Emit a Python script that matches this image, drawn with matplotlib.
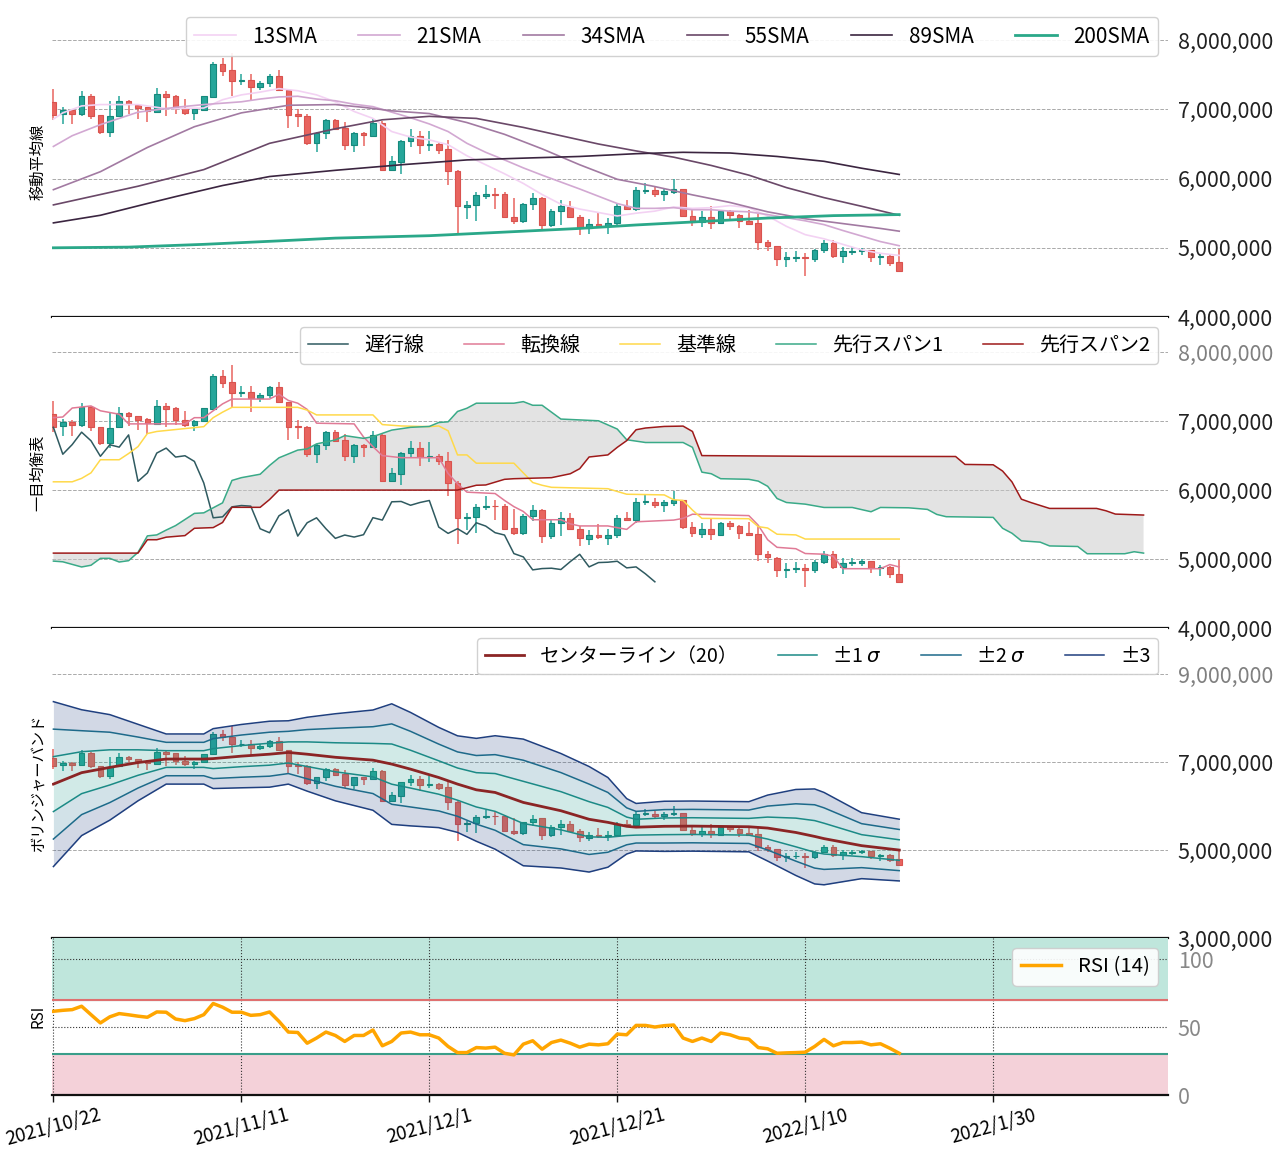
import numpy as np
import pandas as pd
import matplotlib
matplotlib.use('Agg')
import matplotlib.pyplot as plt
import matplotlib.dates as mdates
from matplotlib.ticker import FuncFormatter, FixedLocator

plt.rcParams['font.family'] = ['Noto Sans CJK JP', 'DejaVu Sans']
plt.rcParams['axes.unicode_minus'] = False

M = 1e6
START = '2021-10-22'

# ---- daily OHLC (million JPY) ----
OPEN = [7.10, 6.93, 6.985, 6.94, 7.20, 6.92, 6.68, 6.91, 7.115, 7.07, 7.03, 6.965, 7.22, 7.196, 7.02, 6.95,
        6.995, 7.18, 7.65, 7.57, 7.41, 7.42, 7.33, 7.375, 7.49, 7.28, 6.93, 6.91, 6.52, 6.66, 6.84, 6.73,
        6.489, 6.657, 6.62, 6.80, 6.127, 6.233, 6.537, 6.61, 6.48, 6.498, 6.426, 6.103, 5.593, 5.612, 5.752,
        5.776, 5.776, 5.444, 5.381, 5.627, 5.718, 5.333, 5.526, 5.593, 5.439, 5.285, 5.348, 5.31, 5.353,
        5.598, 5.565, 5.825, 5.83, 5.78, 5.81, 5.849, 5.464, 5.367, 5.44, 5.353, 5.526, 5.478, 5.382, 5.358,
        5.079, 5.021, 4.843, 4.857, 4.867, 4.843, 4.963, 5.069, 4.886, 4.944, 4.949, 4.968, 4.872, 4.881, 4.79]
HIGH = [7.29, 7.03, 7.01, 7.27, 7.22, 6.92, 7.115, 7.20, 7.13, 7.08, 7.04, 7.31, 7.27, 7.21, 7.15, 7.02,
        7.19, 7.68, 7.74, 7.81, 7.51, 7.51, 7.41, 7.51, 7.57, 7.28, 7.01, 6.93, 6.67, 6.86, 6.865, 6.816,
        6.67, 6.67, 6.86, 6.83, 6.32, 6.551, 6.715, 6.695, 6.695, 6.522, 6.551, 6.127, 5.67, 5.80, 5.911,
        5.863, 5.80, 5.719, 5.646, 5.786, 5.728, 5.56, 5.685, 5.67, 5.478, 5.415, 5.502, 5.43, 5.637,
        5.685, 5.878, 5.935, 5.878, 5.863, 5.993, 5.849, 5.54, 5.526, 5.598, 5.54, 5.55, 5.492, 5.541, 5.492,
        5.117, 5.031, 4.939, 4.958, 4.929, 4.982, 5.117, 5.117, 5.011, 5.011, 4.997, 4.968, 4.915, 4.901, 4.982]
LOW = [6.84, 6.79, 6.79, 6.91, 6.86, 6.65, 6.605, 6.90, 6.93, 6.865, 6.82, 6.95, 6.91, 6.94, 6.92, 6.85,
       6.99, 7.18, 7.48, 7.20, 7.35, 7.13, 7.28, 7.33, 7.27, 6.73, 6.74, 6.48, 6.39, 6.575, 6.705, 6.416,
       6.388, 6.474, 6.604, 6.113, 6.113, 6.07, 6.46, 6.354, 6.402, 6.358, 5.91, 5.213, 5.42, 5.382, 5.709,
       5.565, 5.43, 5.348, 5.353, 5.55, 5.237, 5.295, 5.333, 5.43, 5.189, 5.203, 5.285, 5.204, 5.31,
       5.55, 5.526, 5.78, 5.733, 5.68, 5.776, 5.44, 5.32, 5.30, 5.271, 5.343, 5.416, 5.286, 5.348, 4.973,
       4.949, 4.742, 4.722, 4.80, 4.597, 4.80, 4.925, 4.853, 4.78, 4.896, 4.901, 4.80, 4.751, 4.732, 4.65]
CLOSE = [6.92, 6.985, 6.94, 7.20, 6.91, 6.68, 6.90, 7.115, 7.08, 7.02, 6.98, 7.22, 7.18, 7.02, 6.95, 7.00,
         7.19, 7.65, 7.56, 7.41, 7.42, 7.33, 7.375, 7.49, 7.28, 6.92, 6.91, 6.52, 6.66, 6.84, 6.715, 6.49,
         6.657, 6.623, 6.80, 6.127, 6.248, 6.537, 6.609, 6.479, 6.498, 6.416, 6.103, 5.598, 5.612, 5.757, 5.776,
         5.767, 5.439, 5.381, 5.627, 5.714, 5.333, 5.526, 5.598, 5.439, 5.30, 5.348, 5.319, 5.353, 5.60,
         5.565, 5.83, 5.835, 5.78, 5.82, 5.849, 5.464, 5.372, 5.44, 5.358, 5.526, 5.478, 5.382, 5.348, 5.079,
         5.031, 4.843, 4.862, 4.867, 4.848, 4.963, 5.069, 4.886, 4.949, 4.954, 4.968, 4.872, 4.886, 4.785, 4.67]

# ---- moving averages (day offset from START, value) ----
SMA13_DAY = [0, 1, 3, 5, 9, 12, 14, 16, 18, 20, 22, 24, 26, 28, 30, 32, 34, 36, 38, 40, 42, 44, 46, 48, 50,
             52, 54, 56, 58, 60, 62, 64, 66, 68, 70, 72, 74, 76, 78, 80, 82, 84, 86, 88, 90]
SMA13 = [6.86, 6.95, 7.05, 7.07, 7.07, 7.01, 7.015, 7.02, 7.14, 7.21, 7.25, 7.30, 7.27, 7.21, 7.11, 6.97, 6.87,
         6.68, 6.60, 6.56, 6.49, 6.33, 6.20, 6.07, 5.93, 5.77, 5.63, 5.56, 5.51, 5.46, 5.50, 5.53, 5.59, 5.57,
         5.58, 5.61, 5.58, 5.46, 5.31, 5.19, 5.13, 5.05, 4.97, 4.92, 4.89]
SMA21_DAY = [0, 2, 5, 9, 13, 16, 20, 22, 24, 26, 28, 30, 32, 34, 36, 38, 40, 42, 44, 46, 48, 50, 52, 54, 56,
             58, 60, 62, 64, 66, 68, 70, 72, 74, 76, 78, 80, 82, 84, 86, 88, 90]
SMA21 = [6.465, 6.62, 6.78, 6.96, 7.03, 7.07, 7.11, 7.15, 7.18, 7.19, 7.15, 7.125, 7.075, 7.04, 6.96, 6.88,
         6.79, 6.68, 6.51, 6.38, 6.27, 6.155, 6.05, 5.95, 5.85, 5.745, 5.64, 5.57, 5.57, 5.58, 5.55, 5.55,
         5.53, 5.52, 5.48, 5.435, 5.39, 5.335, 5.25, 5.17, 5.09, 5.03]
SMA34_DAY = [0, 5, 10, 15, 20, 25, 30, 33, 36, 40, 44, 48, 52, 56, 60, 64, 68, 72, 76, 80, 84, 88, 90]
SMA34 = [5.84, 6.10, 6.45, 6.75, 6.95, 7.06, 7.07, 7.03, 6.98, 6.94, 6.81, 6.64, 6.43, 6.20, 5.99, 5.885,
         5.765, 5.655, 5.52, 5.42, 5.35, 5.28, 5.24]
SMA55_DAY = [0, 9, 16, 23, 30, 35, 40, 45, 50, 54, 58, 62, 66, 70, 74, 78, 82, 86, 90]
SMA55 = [5.62, 5.89, 6.13, 6.51, 6.72, 6.85, 6.90, 6.87, 6.74, 6.62, 6.50, 6.40, 6.31, 6.19, 6.05, 5.87,
         5.725, 5.60, 5.47]
SMA89_DAY = [0, 5, 10, 13, 18, 23, 30, 37, 44, 51, 56, 62, 67, 72, 77, 82, 86, 90]
SMA89 = [5.36, 5.47, 5.64, 5.74, 5.90, 6.03, 6.12, 6.20, 6.27, 6.30, 6.32, 6.36, 6.38, 6.37, 6.32, 6.25,
         6.15, 6.06]
SMA200_DAY = [0, 8, 16, 24, 30, 40, 50, 56, 62, 69, 76, 83, 90]
SMA200 = [5.00, 5.01, 5.05, 5.10, 5.14, 5.175, 5.24, 5.28, 5.33, 5.38, 5.43, 5.465, 5.48]

# ---- ichimoku ----
TENKAN_DAY = [0, 1, 2, 4, 5, 7, 8, 14, 15, 16, 17, 18, 19, 23, 24, 25, 26, 27, 28, 32, 33, 34, 35, 37, 41,
              42, 43, 44, 47, 48, 49, 50, 51, 54, 55, 56, 59, 61, 62, 66, 67, 68, 74, 75, 76, 77, 79, 80, 82,
              83, 84, 88, 89, 90]
TENKAN = [7.05, 7.06, 7.19, 7.22, 7.15, 7.10, 6.96, 6.96, 7.05, 7.05, 7.15, 7.25, 7.32, 7.32, 7.39, 7.30,
          7.26, 7.17, 6.97, 6.96, 6.77, 6.63, 6.50, 6.47, 6.47, 6.24, 6.09, 5.97, 5.95, 5.85, 5.76, 5.69,
          5.57, 5.57, 5.51, 5.48, 5.48, 5.43, 5.54, 5.565, 5.59, 5.65, 5.63, 5.49, 5.28, 5.17, 5.15, 5.08,
          5.07, 5.04, 4.86, 4.86, 4.92, 4.885]
KIJUN_DAY = [0, 2, 3, 4, 5, 7, 8, 9, 10, 11, 16, 17, 18, 19, 26, 27, 28, 34, 35, 37, 40, 41, 42, 43, 44, 45,
             49, 50, 51, 52, 53, 59, 61, 65, 66, 67, 68, 69, 74, 75, 76, 77, 79, 80, 90]
KIJUN = [6.12, 6.12, 6.17, 6.25, 6.44, 6.44, 6.53, 6.63, 6.82, 6.85, 6.92, 7.05, 7.13, 7.20, 7.20, 7.16,
         7.09, 7.09, 6.95, 6.93, 6.92, 6.93, 6.86, 6.51, 6.51, 6.39, 6.39, 6.25, 6.11, 6.07, 6.04, 6.02,
         5.94, 5.93, 5.86, 5.85, 5.71, 5.59, 5.585, 5.47, 5.45, 5.36, 5.35, 5.29, 5.29]
SENKOU1_DAY = [0, 1, 3, 4, 5, 6, 7, 8, 9, 10, 11, 12, 13, 15, 16, 17, 18, 19, 20, 22, 23, 24, 26, 27, 28,
               30, 31, 33, 34, 36, 38, 40, 41, 42, 43, 44, 45, 49, 50, 51, 52, 54, 58, 60, 61, 63, 67, 68,
               69, 70, 71, 74, 75, 76, 77, 78, 80, 82, 85, 87, 88, 91, 93, 94, 95, 100, 101, 102, 103, 105,
               106, 109, 110, 114, 115, 116]
SENKOU1 = [4.97, 4.96, 4.885, 4.91, 5.01, 5.01, 4.957, 4.976, 5.096, 5.336, 5.35, 5.42, 5.485, 5.662, 5.67,
           5.743, 5.815, 6.14, 6.18, 6.23, 6.357, 6.468, 6.58, 6.597, 6.67, 6.727, 6.79, 6.75, 6.775, 6.87,
           6.91, 6.923, 6.98, 6.99, 7.14, 7.187, 7.26, 7.26, 7.283, 7.23, 7.23, 7.03, 7.005, 6.885, 6.73,
           6.69, 6.69, 6.62, 6.26, 6.237, 6.165, 6.156, 6.13, 6.055, 5.878, 5.82, 5.796, 5.748, 5.748,
           5.686, 5.748, 5.743, 5.72, 5.647, 5.614, 5.604, 5.446, 5.374, 5.264, 5.245, 5.19, 5.182, 5.077,
           5.077, 5.106, 5.086]
SENKOU2_DAY = [0, 9, 10, 11, 12, 14, 15, 17, 18, 19, 22, 23, 24, 43, 45, 46, 48, 49, 53, 55, 56, 57, 59, 60,
               61, 62, 63, 65, 67, 68, 69, 81, 96, 97, 100, 101, 102, 103, 104, 106, 111, 112, 113, 116]
SENKOU2 = [5.086, 5.086, 5.28, 5.28, 5.317, 5.34, 5.446, 5.456, 5.53, 5.75, 5.75, 5.863, 6.0, 6.0, 6.07,
           6.074, 6.156, 6.165, 6.18, 6.237, 6.31, 6.48, 6.51, 6.62, 6.717, 6.875, 6.9, 6.923, 6.928, 6.85,
           6.50, 6.49, 6.487, 6.372, 6.367, 6.276, 6.118, 5.868, 5.82, 5.734, 5.734, 5.70, 5.652, 5.638]
CHIKOU_SHIFT = 26

# ---- bollinger (centre and sigma) ----
BB_DAY = [0, 3, 6, 9, 12, 16, 17, 20, 23, 25, 27, 30, 34, 36, 38, 41, 43, 45, 47, 50, 54, 57, 59, 61, 62,
          65, 68, 74, 76, 79, 81, 82, 86, 90]
BB_MID = [6.50, 6.76, 6.88, 6.99, 7.07, 7.07, 7.08, 7.136, 7.18, 7.22, 7.18, 7.11, 7.045, 6.955, 6.84, 6.65,
          6.50, 6.37, 6.31, 6.083, 5.894, 5.70, 5.63, 5.54, 5.52, 5.54, 5.545, 5.53, 5.50, 5.40, 5.31, 5.26,
          5.10, 5.00]
BB_SIGMA = [0.625, 0.477, 0.40, 0.29, 0.19, 0.19, 0.227, 0.24, 0.25, 0.24, 0.28, 0.33, 0.38, 0.457, 0.43,
            0.38, 0.366, 0.39, 0.43, 0.48, 0.434, 0.40, 0.34, 0.21, 0.18, 0.19, 0.19, 0.19, 0.25, 0.326,
            0.36, 0.35, 0.25, 0.234]

# ---- RSI ----
RSI_DAY = list(range(0, 91))
RSI = [61.6, 62.3, 62.8, 65.3, 59.1, 53.0, 57.5, 59.9, 59.0, 58.0, 57.2, 61.1, 60.9, 55.9, 54.7, 56.2, 59.1,
       67.3, 64.6, 60.9, 60.9, 58.6, 59.1, 61.1, 54.2, 46.3, 46.0, 38.1, 41.9, 46.3, 43.8, 39.4, 43.8, 43.8,
       47.8, 36.2, 39.4, 45.6, 46.3, 44.3, 44.3, 41.9, 35.7, 31.2, 31.2, 34.9, 34.5, 35.2, 30.7, 29.5, 37.4,
       39.9, 33.7, 38.6, 40.4, 38.1, 35.2, 37.4, 36.9, 37.7, 44.8, 44.3, 51.2, 51.2, 50.0, 51.0, 51.5, 41.9,
       39.4, 41.9, 39.4, 45.6, 44.3, 41.9, 41.1, 34.9, 34.0, 30.7, 31.0, 31.2, 31.5, 35.7, 40.9, 36.2, 38.6,
       38.6, 38.9, 36.9, 37.7, 34.4, 30.7]

XTICK_DAYS = [0, 20, 40, 60, 80, 100]

# ---------------------------------------------------------------
x0 = mdates.date2num(pd.Timestamp(START))
def kx(days):
    return x0 + np.asarray(days, dtype=float)

n = len(CLOSE)
xd = kx(range(n))
o = np.array(OPEN) * M
h = np.array(HIGH) * M
l = np.array(LOW) * M
c = np.array(CLOSE) * M

UP, DOWN = '#26a69a', '#e8645f'
UP_E, DOWN_E = '#16897c', '#d9534f'
FS = 15.5

fig = plt.figure(figsize=(12.81, 11.52), dpi=100)
W, H = 1281, 1152
left, right = 52 / W, 1168 / W
bounds = [(7, 317), (317, 628), (628, 938), (938, 1095)]
axes = [fig.add_axes([left, 1 - b / H, right - left, (b - t) / H]) for t, b in bounds]

def candles(ax, z=3):
    up = c >= o
    col = np.where(up, UP, DOWN)
    ecol = np.where(up, UP_E, DOWN_E)
    ax.vlines(xd, l, h, colors=col, linewidth=1.1, zorder=z)
    body = np.maximum(np.abs(c - o), 0.008 * M)
    ax.bar(xd, body, bottom=np.minimum(o, c), width=0.6, color=col, edgecolor=ecol,
           linewidth=0.8, zorder=z + 0.1)

money = FuncFormatter(lambda v, p: f'{v:,.0f}')
xlim = (x0 - 0.15, x0 + 118.6)

for i, ax in enumerate(axes):
    ax.set_xlim(*xlim)
    for s in ('top', 'left', 'right'):
        ax.spines[s].set_visible(False)
    ax.spines['bottom'].set_color('#111111')
    ax.spines['bottom'].set_linewidth(1.6)
    ax.yaxis.tick_right()
    ax.tick_params(axis='y', length=0, labelsize=FS, labelcolor='#222222', pad=7)
    ax.xaxis.set_major_locator(FixedLocator(kx(XTICK_DAYS)))
    if i < 3:
        ax.tick_params(axis='x', length=0, labelbottom=False)
        ax.yaxis.set_major_formatter(money)
        ax.grid(axis='y', linestyle='--', color='#aaaaaa', linewidth=0.7)
        ax.set_axisbelow(True)

def leg(ax, size, **kw):
    ax.legend(loc='upper right', fontsize=size, framealpha=0.9, edgecolor='#cccccc', **kw)

# ---- panel 1: SMA ----
ax = axes[0]
ax.set_ylim(4.0 * M, 8.48 * M)
ax.set_yticks(np.arange(4, 9) * M)
candles(ax)
sma_specs = [(SMA13_DAY, SMA13, '#f3d2f3', 1.2, '13SMA'),
             (SMA21_DAY, SMA21, '#d2a8d2', 1.2, '21SMA'),
             (SMA34_DAY, SMA34, '#a27aa2', 1.2, '34SMA'),
             (SMA55_DAY, SMA55, '#6a4868', 1.2, '55SMA'),
             (SMA89_DAY, SMA89, '#3b2540', 1.2, '89SMA'),
             (SMA200_DAY, SMA200, '#2aa889', 2.0, '200SMA')]
for d, v, col, lw, lab in sma_specs:
    ax.plot(kx(d), np.array(v) * M, color=col, lw=lw, label=lab, zorder=5)
leg(ax, 14.9, ncol=6)
ax.set_ylabel('移動平均線', fontsize=11, labelpad=4)

# ---- panel 2: Ichimoku ----
ax = axes[1]
ax.set_ylim(4.0 * M, 8.51 * M)
ax.set_yticks(np.arange(4, 9) * M)
s1x, s1y = kx(SENKOU1_DAY), np.array(SENKOU1) * M
s2x, s2y = kx(SENKOU2_DAY), np.array(SENKOU2) * M
ax.fill(np.concatenate([s1x, s2x[::-1]]), np.concatenate([s1y, s2y[::-1]]),
        color='#c8c8c8', alpha=0.5, lw=0, zorder=1)
candles(ax)
ax.plot(xd[:n - CHIKOU_SHIFT], c[CHIKOU_SHIFT:], color='#2f5a60', lw=1.1, label='遅行線', zorder=5)
ax.plot(kx(TENKAN_DAY), np.array(TENKAN) * M, color='#e07a96', lw=1.1, label='転換線', zorder=5)
ax.plot(kx(KIJUN_DAY), np.array(KIJUN) * M, color='#ffd94a', lw=1.1, label='基準線', zorder=5)
ax.plot(s1x, s1y, color='#3aaa88', lw=1.1, label='先行スパン1', zorder=5)
ax.plot(s2x, s2y, color='#9e1a1a', lw=1.1, label='先行スパン2', zorder=5)
leg(ax, 14.4, ncol=5)
ax.set_ylabel('一目均衡表', fontsize=11, labelpad=4)

# ---- panel 3: Bollinger ----
ax = axes[2]
ax.set_ylim(3.0 * M, 10.05 * M)
ax.set_yticks(np.arange(3, 10, 2) * M)
candles(ax)
bx = kx(BB_DAY)
mid = np.array(BB_MID) * M
sg = np.array(BB_SIGMA) * M
ax.fill_between(bx, mid + 2 * sg, mid + 3 * sg, color='#1f3f7f', alpha=0.2, lw=0, zorder=4)
ax.fill_between(bx, mid - 3 * sg, mid - 2 * sg, color='#1f3f7f', alpha=0.2, lw=0, zorder=4)
ax.fill_between(bx, mid + 1 * sg, mid + 2 * sg, color='#1f6f8f', alpha=0.2, lw=0, zorder=4)
ax.fill_between(bx, mid - 2 * sg, mid - 1 * sg, color='#1f6f8f', alpha=0.2, lw=0, zorder=4)
ax.fill_between(bx, mid - 1 * sg, mid + 1 * sg, color='#1a9a8a', alpha=0.2, lw=0, zorder=4)
ax.plot(bx, mid, color='#8b2525', lw=2.0, label='センターライン（20）', zorder=6)
ax.plot(bx, mid + sg, color='#1b8a86', lw=1.1, label='±1 $\\sigma$', zorder=6)
ax.plot(bx, mid - sg, color='#1b8a86', lw=1.1, zorder=6)
ax.plot(bx, mid + 2 * sg, color='#1d6a8a', lw=1.1, label='±2 $\\sigma$', zorder=6)
ax.plot(bx, mid - 2 * sg, color='#1d6a8a', lw=1.1, zorder=6)
ax.plot(bx, mid + 3 * sg, color='#1f3f7f', lw=1.1, label='±3', zorder=6)
ax.plot(bx, mid - 3 * sg, color='#1f3f7f', lw=1.1, zorder=6)
leg(ax, 14.1, ncol=4)
ax.set_ylabel('ボリンジャーバンド', fontsize=11, labelpad=4)

# ---- panel 4: RSI ----
ax = axes[3]
ax.set_ylim(0, 115.5)
ax.set_yticks([0, 50, 100])
ax.tick_params(axis='y', labelcolor='#888888')
ax.axhspan(70, 115.5, color='#bfe6dc', zorder=0)
ax.axhspan(0, 30, color='#f4d1d9', zorder=0)
ax.axhline(70, color='#e07070', lw=1.5, zorder=2)
ax.axhline(30, color='#3a9e8a', lw=1.5, zorder=2)
ax.grid(True, linestyle=':', color='#333333', linewidth=0.8, zorder=1)
ax.set_axisbelow(True)
ax.plot(kx(RSI_DAY), RSI, color='#ffa500', lw=2.5, label='RSI (14)', zorder=5)
leg(ax, 14.7)
ax.set_ylabel('RSI', fontsize=11, labelpad=4)
labels = []
for d in XTICK_DAYS:
    t = pd.Timestamp(START) + pd.Timedelta(days=d)
    labels.append(f'{t.year}/{t.month}/{t.day}')
ax.set_xticklabels(labels, rotation=15, fontsize=13.5)
ax.tick_params(axis='x', length=5, width=1, color='#111111', pad=2)

# top tick labels of the middle panels appear lighter in the original
fig.canvas.draw()
for ax in axes[1:3]:
    ticks = ax.yaxis.get_major_ticks()
    ticks[-1].label2.set_color('#808080')

fig.savefig('out.png', dpi=100)
